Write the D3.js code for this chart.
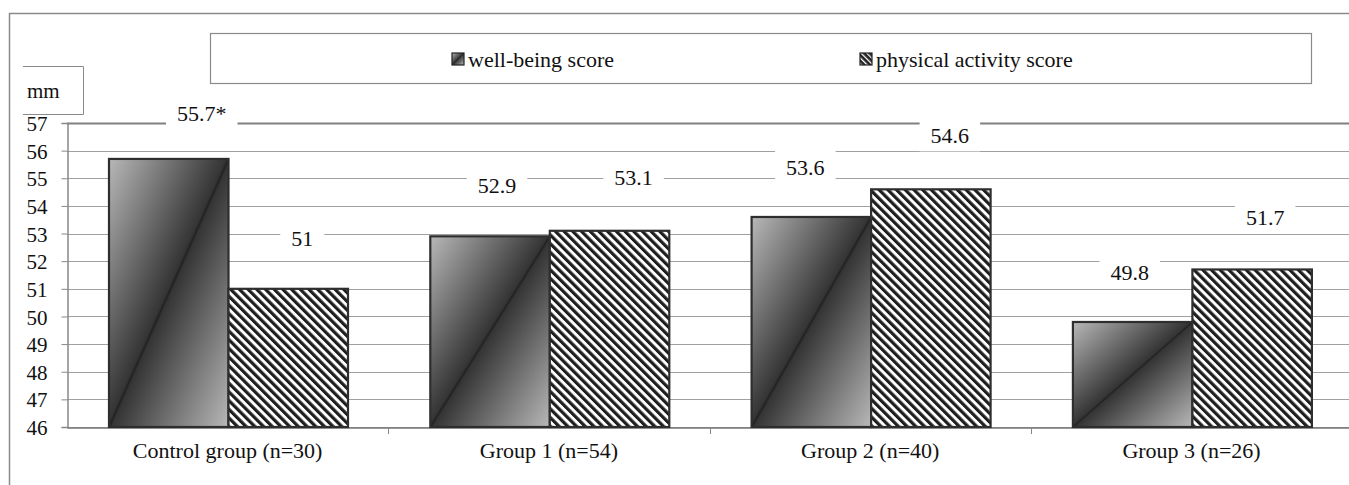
<!DOCTYPE html>
<html>
<head>
<meta charset="utf-8">
<script src="https://cdn.jsdelivr.net/npm/d3@7/dist/d3.min.js"></script>
<style>
  html, body { margin: 0; padding: 0; background: #fff; }
  svg { display: block; }
  svg text { font-family: "Liberation Serif", "Times New Roman", Times, "DejaVu Serif", serif !important; fill: #111; }
</style>
</head>
<body>
<svg id="chart" width="1349" height="485"></svg>
<script>
// ---- data ----
const categories = ["Control group (n=30)", "Group 1 (n=54)", "Group 2 (n=40)", "Group 3 (n=26)"];
const seriesNames = ["well-being score", "physical activity score"];
const wellBeing = [55.7, 52.9, 53.6, 49.8];
const physicalActivity = [51, 53.1, 54.6, 51.7];
const wellBeingLabels = ["55.7*", "52.9", "53.6", "49.8"];
const physicalLabels = ["51", "53.1", "54.6", "51.7"];
const yTicks = [46, 47, 48, 49, 50, 51, 52, 53, 54, 55, 56, 57];
const unitLabel = "mm";
// label placement offsets (px, relative to bar centre / bar top), mimicking the source layout
const wellBeingLabelDx = [33, 7, -6, -3];
const wellBeingLabelDy = [-46, -51, -50, -50];
const physicalLabelDx = [14, 24, 19, 13];
const physicalLabelDy = [-51, -53, -54, -52];

// ---- layout ----
const FONT = '"Liberation Serif", "Times New Roman", Times, "DejaVu Serif", serif';
const svg = d3.select("#chart");
const plot = { left: 67, top: 123, bottom: 427, bandW: 321.3 };
plot.right = plot.left + plot.bandW * categories.length;

const x0 = d3.scaleBand().domain(categories).range([plot.left, plot.right]).padding(0);
const x1 = d3.scaleBand().domain([0, 1]).range([42, 42 + 239]).padding(0);
const y = d3.scaleLinear().domain([46, 57]).range([plot.bottom, plot.top]);

// ---- defs ----
const defs = svg.append("defs");
const grad = defs.append("linearGradient").attr("id", "wbGrad")
  .attr("x1", 0).attr("y1", 0).attr("x2", 1).attr("y2", 1);
grad.append("stop").attr("offset", "0%").attr("stop-color", "#b8b8b8");
grad.append("stop").attr("offset", "49%").attr("stop-color", "#353535");
grad.append("stop").attr("offset", "50%").attr("stop-color", "#222");
grad.append("stop").attr("offset", "51%").attr("stop-color", "#353535");
grad.append("stop").attr("offset", "100%").attr("stop-color", "#b8b8b8");

const hatch = defs.append("pattern").attr("id", "hatch")
  .attr("patternUnits", "userSpaceOnUse").attr("width", 6.15).attr("height", 6.15)
  .attr("patternTransform", "rotate(-45)");
hatch.append("rect").attr("width", 6.15).attr("height", 6.15).attr("fill", "#fff");
hatch.append("rect").attr("x", 0).attr("width", 3.2).attr("height", 6.15).attr("fill", "#1e1e1e");

const hatchSmall = defs.append("pattern").attr("id", "hatchSmall")
  .attr("patternUnits", "userSpaceOnUse").attr("width", 4).attr("height", 4)
  .attr("patternTransform", "rotate(-45)");
hatchSmall.append("rect").attr("width", 4).attr("height", 4).attr("fill", "#222");
hatchSmall.append("rect").attr("width", 1.3).attr("height", 4).attr("fill", "#fff");

// ---- outer frame ----
svg.append("path").attr("d", `M9.5,${485}V13.5H1349`).attr("fill", "none")
  .attr("stroke", "#8a8a8a").attr("stroke-width", 1.5);

// ---- gridlines ----
svg.append("g").selectAll("line").data(yTicks).join("line")
  .attr("x1", plot.left).attr("x2", plot.right)
  .attr("y1", d => Math.round(y(d)) + 0.5).attr("y2", d => Math.round(y(d)) + 0.5)
  .attr("stroke", d => d === 57 ? "#808080" : "#a0a0a0")
  .attr("stroke-width", d => d === 57 ? 2 : 1);

// ---- y axis ----
const yAxis = d3.axisLeft(y).tickValues(yTicks).tickSize(6).tickPadding(14).tickFormat(d3.format("d"));
const gy = svg.append("g").attr("transform", `translate(${plot.left + 0.5},0)`).call(yAxis)
  .attr("font-family", FONT);
gy.select(".domain").attr("stroke", "#888").attr("stroke-width", 1.5);
gy.selectAll(".tick line").attr("stroke", "#888");
gy.selectAll(".tick text").attr("font-size", 21).attr("fill", "#111").attr("dy", "0.36em");

// ---- x axis ----
const xAxis = d3.axisBottom(x0).tickSize(0).tickPadding(15);
const gx = svg.append("g").attr("transform", `translate(0,${plot.bottom + 0.5})`).call(xAxis)
  .attr("font-family", FONT);
gx.select(".domain").attr("stroke", "#777").attr("stroke-width", 1.5);
gx.selectAll(".tick text").attr("font-size", 22).attr("fill", "#111");
// category separator ticks
svg.append("g").selectAll("line").data(categories.slice(1)).join("line")
  .attr("x1", d => Math.round(x0(d)) + 0.5).attr("x2", d => Math.round(x0(d)) + 0.5)
  .attr("y1", plot.bottom).attr("y2", plot.bottom + 7)
  .attr("stroke", "#888").attr("stroke-width", 1);

// ---- bars ----
const barData = [];
categories.forEach((c, i) => {
  barData.push({ c, s: 0, v: wellBeing[i], label: wellBeingLabels[i], dx: wellBeingLabelDx[i], dy: wellBeingLabelDy[i] });
  barData.push({ c, s: 1, v: physicalActivity[i], label: physicalLabels[i], dx: physicalLabelDx[i], dy: physicalLabelDy[i] });
});

svg.append("g").selectAll("rect").data(barData).join("rect")
  .attr("x", d => x0(d.c) + x1(d.s))
  .attr("y", d => y(d.v))
  .attr("width", x1.bandwidth())
  .attr("height", d => y(46) - y(d.v))
  .attr("fill", d => d.s === 0 ? "url(#wbGrad)" : "url(#hatch)")
  .attr("stroke", "#2e2e2e").attr("stroke-width", 2.2);

// ---- data labels with white background ----
const lab = svg.append("g").attr("font-family", FONT).selectAll("g").data(barData).join("g")
  .attr("transform", d => `translate(${x0(d.c) + x1(d.s) + x1.bandwidth() / 2 + d.dx},${y(d.v) + d.dy})`);
lab.append("text").attr("text-anchor", "middle").attr("dy", "0.35em")
  .attr("font-size", 22).text(d => d.label);
lab.each(function () {
  const g = d3.select(this);
  const bb = g.select("text").node().getBBox();
  g.insert("rect", "text").attr("x", bb.x - 11).attr("y", -16)
    .attr("width", bb.width + 22).attr("height", 32).attr("fill", "#fff");
});

// ---- unit box ----
svg.append("path").attr("d", "M23,66.5H83.5V114.5H23").attr("fill", "#fff")
  .attr("stroke", "#8a8a8a").attr("stroke-width", 1);
svg.append("text").attr("x", 27).attr("y", 98).attr("font-size", 21).attr("font-family", FONT).text(unitLabel);

// ---- legend ----
svg.append("rect").attr("x", 210.5).attr("y", 33.5).attr("width", 1101).attr("height", 50)
  .attr("fill", "#fff").attr("stroke", "#8a8a8a").attr("stroke-width", 1.2);
const legendX = [452, 860];
const leg = svg.append("g").attr("font-family", FONT).selectAll("g").data(seriesNames).join("g")
  .attr("transform", (d, i) => `translate(${legendX[i]},53)`);
leg.append("rect").attr("width", 12).attr("height", 12)
  .attr("fill", (d, i) => i === 0 ? "url(#wbGrad)" : "url(#hatchSmall)")
  .attr("stroke", "#222").attr("stroke-width", 1.2);
leg.append("text").attr("x", 16).attr("y", 13.5).attr("font-size", 22).text(d => d);
</script>
</body>
</html>
